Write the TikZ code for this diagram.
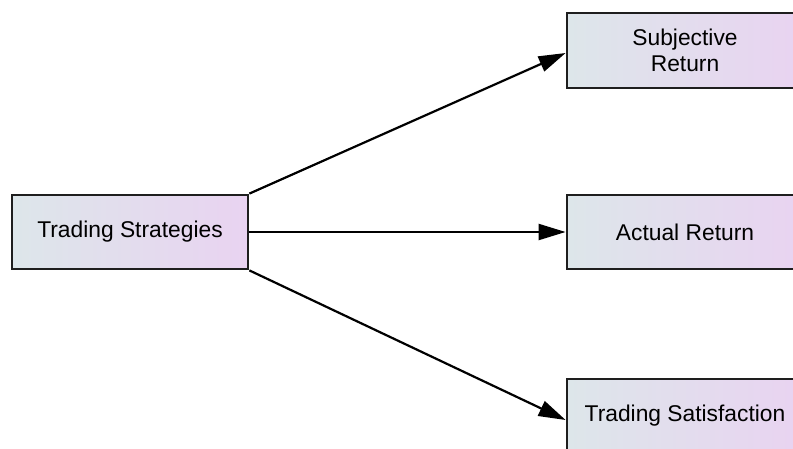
\documentclass[tikz,border=0pt]{standalone}
\usepackage{fontspec}
\setmainfont{Liberation Sans}
\usetikzlibrary{arrows.meta}
\definecolor{boxleft}{RGB}{221,230,234}
\definecolor{boxright}{RGB}{233,211,241}
\definecolor{boxline}{RGB}{30,30,30}
\tikzset{
  factor/.style={draw=boxline, line width=2.8pt, rectangle, inner sep=0pt,
    minimum width=236pt, minimum height=74pt, align=center,
    left color=boxleft, right color=boxright,
    font=\fontsize{22.8}{26.5}\selectfont},
  link/.style={draw=black, line width=2.2pt,
    -{Triangle[length=27pt,width=16pt]}}
}
\begin{document}
\begin{tikzpicture}[x=1pt,y=-1pt]
  \useasboundingbox (0,0) rectangle (793,448);
  \clip (0,0) rectangle (793,448);
  \fill[white] (0,0) rectangle (793,448);
  % factor boxes
  \node[factor] (ts)   at (130,232)   {Trading Strategies};
  \node[factor, minimum height=75pt] (sr) at (685,50.5) {Subjective\\Return};
  \node[factor] (ar)   at (685,232)   {Actual Return};
  \node[factor] (tsat) at (685,416)   {Trading Satisfaction};
  % effects
  \draw[link] (ts.north east) -- ([yshift=-2.5pt]sr.west);
  \draw[link] (ts.east) -- (ar.west);
  \draw[link] (ts.south east) -- ([yshift=-4pt]tsat.west);
\end{tikzpicture}
\end{document}
